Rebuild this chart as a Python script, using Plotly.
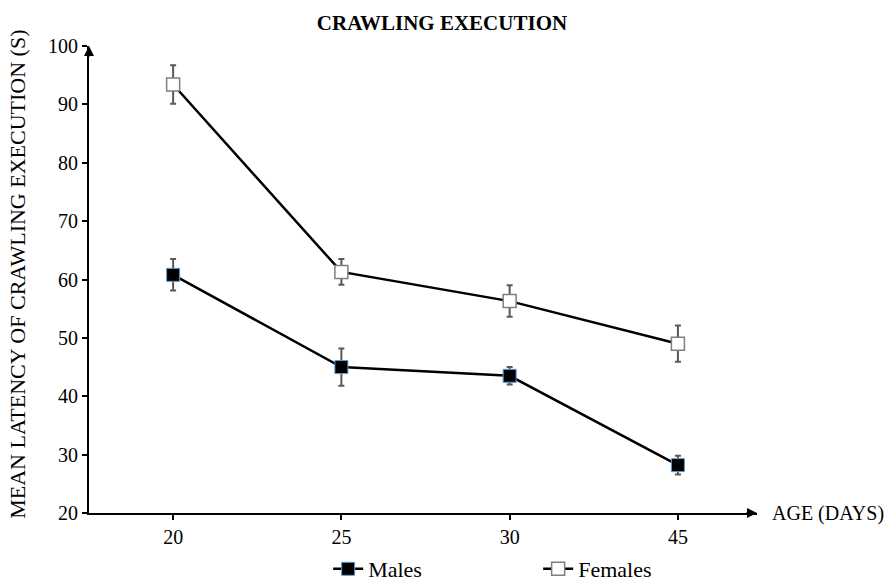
import plotly.graph_objects as go

ages = ["20", "25", "30", "45"]
age_pos = [0, 1, 2, 3]
males = [60.8, 45.0, 43.5, 28.2]
males_err = [2.7, 3.2, 1.5, 1.6]
females = [93.4, 61.3, 56.3, 49.0]
females_err = [3.3, 2.2, 2.7, 3.1]
y_ticks = [20, 30, 40, 50, 60, 70, 80, 90, 100]

FONT = "Liberation Serif, Times New Roman, serif"

fig = go.Figure()
fig.add_trace(go.Scatter(
    x=age_pos, y=males, name="Males", mode="lines+markers",
    line=dict(color="black", width=2.5),
    marker=dict(symbol="square", size=13, color="black", line=dict(color="#5B9BD5", width=1)),
    error_y=dict(type="data", array=males_err, color="#595959", thickness=2, width=3),
))
fig.add_trace(go.Scatter(
    x=age_pos, y=females, name="Females", mode="lines+markers",
    line=dict(color="black", width=2.5),
    marker=dict(symbol="square", size=13, color="white", line=dict(color="#7f7f7f", width=1.5)),
    error_y=dict(type="data", array=females_err, color="#595959", thickness=2, width=3),
))

fig.update_layout(
    width=893, height=585,
    margin=dict(l=89, r=136, t=46, b=72, autoexpand=False),
    plot_bgcolor="white", paper_bgcolor="white",
    font=dict(family=FONT, size=20, color="black"),
    title=dict(text="<b>CRAWLING EXECUTION</b>", x=442/893, xanchor="center",
               y=1 - 23/585, yanchor="middle", font=dict(size=21, family=FONT)),
    xaxis=dict(range=[-0.5, 3.47], tickvals=age_pos, ticktext=ages, automargin=False,
               showline=True, linecolor="black", linewidth=2,
               ticks="outside", ticklen=5, tickwidth=2, tickcolor="black",
               showgrid=False, zeroline=False, tickfont=dict(size=20)),
    yaxis=dict(range=[20, 100], tickvals=y_ticks, automargin=False,
               showline=True, linecolor="black", linewidth=2,
               ticks="outside", ticklen=5, tickwidth=2, tickcolor="black",
               showgrid=False, zeroline=False, tickfont=dict(size=20)),
    legend=dict(orientation="h", x=0.358, xanchor="left", yref="container",
                y=1 - 569/585, yanchor="middle",
                entrywidth=165, entrywidthmode="pixels", itemwidth=30,
                font=dict(size=22, family=FONT)),
    showlegend=True,
)

# axis arrows
fig.add_annotation(x=1, y=0, xref="x domain", yref="y domain", ax=-12, ay=0,
                   showarrow=True, arrowhead=2, arrowsize=1, arrowwidth=2, arrowcolor="black", text="")
fig.add_annotation(x=0, y=1, xref="x domain", yref="y domain", ax=0, ay=12,
                   showarrow=True, arrowhead=2, arrowsize=1, arrowwidth=2, arrowcolor="black", text="")

fig.add_annotation(text="AGE (DAYS)", x=(770 - 89) / 668, y=0, xref="paper", yref="paper",
                   xanchor="left", yanchor="middle", showarrow=False, font=dict(size=20, family=FONT))
fig.add_annotation(text="MEAN LATENCY OF CRAWLING EXECUTION (S)", x=(18 - 89) / 668, y=0.51,
                   xref="paper", yref="paper", xanchor="center", yanchor="middle",
                   textangle=-90, showarrow=False, font=dict(size=22, family=FONT))

fig.write_html("out.html", post_script="document.body.style.margin='0';",
               config={"displayModeBar": False})
